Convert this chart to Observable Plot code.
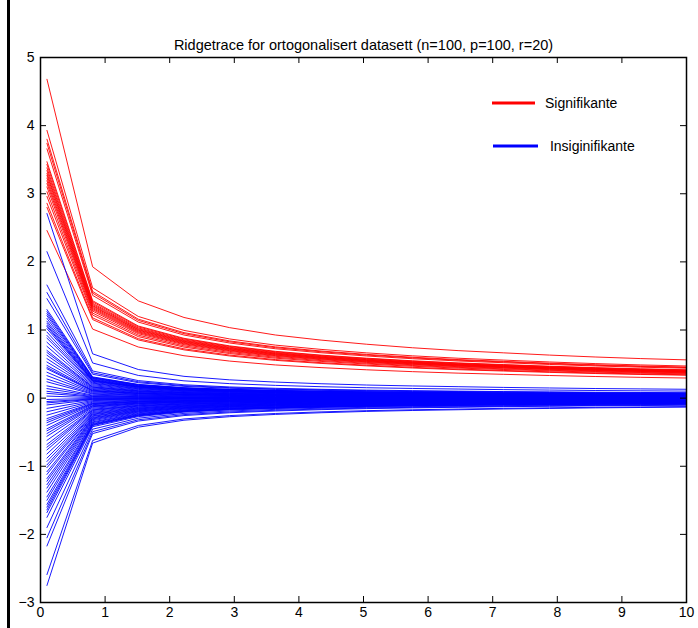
<!DOCTYPE html>
<html>
<head>
<meta charset="utf-8">
<script src="https://cdn.jsdelivr.net/npm/d3@7"></script>
<script src="https://cdn.jsdelivr.net/npm/@observablehq/plot@0.6"></script>
<style>
  html, body { margin: 0; padding: 0; background: #fff; }
  #wrap { position: relative; width: 698px; height: 628px; font-family: "Liberation Sans", Arial, Helvetica, sans-serif; }
  #border { position: absolute; left: 7px; top: 0; width: 3px; height: 628px; background: #000; }
  #legend { position: absolute; left: 0; top: 0; width: 698px; height: 628px; pointer-events: none; }
</style>
</head>
<body>
<div id="wrap"></div>
<script>
// ridge parameter values (x axis)
const ks = [0.1, 0.807, 1.514, 2.221, 2.929, 3.636, 4.343, 5.05, 5.757, 6.464, 7.171, 7.879, 8.586, 9.293, 10];
// coefficient values at the first ridge value
const sigStart = [4.68, 3.93, 3.80, 3.74, 3.66, 3.47, 3.43, 3.38, 3.34, 3.30, 3.27, 3.23, 3.19, 3.15, 3.10, 3.03, 2.96, 2.86, 2.80, 2.46];
const insigStart = [2.71, 2.15, 1.66, 1.55, 1.46, 1.30, 1.27, 1.24, 1.21, 1.17, 1.13, 1.10, 1.07, 1.05, 1.02,
  0.97, 0.92, 0.88, 0.82, 0.76, 0.70, 0.67, 0.63, 0.58, 0.53, 0.48, 0.45, 0.43, 0.38, 0.33,
  0.28, 0.24, 0.18, 0.14, 0.10, 0.07, 0.03, -0.02, -0.05, -0.07, -0.10, -0.15, -0.20, -0.25, -0.30,
  -0.33, -0.36, -0.40, -0.45, -0.48, -0.52, -0.56, -0.62, -0.68, -0.72, -0.76, -0.82, -0.88, -0.93, -0.98,
  -1.02, -1.08, -1.12, -1.18, -1.22, -1.27, -1.32, -1.38, -1.45, -1.50, -1.56, -1.60, -1.64, -1.68, -1.75,
  -1.90, -2.05, -2.17, -2.59, -2.75];
// shrinkage relative to the first value at each ridge value
const sigShrink = [1, 0.412, 0.305, 0.253, 0.221, 0.198, 0.182, 0.169, 0.158, 0.149, 0.142, 0.135, 0.129, 0.124, 0.120];
const insigShrink = [1, 0.240, 0.155, 0.118, 0.099, 0.087, 0.078, 0.071, 0.066, 0.062, 0.058, 0.055, 0.052, 0.050, 0.048];
const xTicks = [0, 1, 2, 3, 4, 5, 6, 7, 8, 9, 10];
const yTicks = [-3, -2, -1, 0, 1, 2, 3, 4, 5];
const titleText = "Ridgetrace for ortogonalisert datasett (n=100, p=100, r=20)";
const legendLabels = ["Signifikante", " Insiginifikante"];
const colors = {sig: "#ff0000", insig: "#0000ff"};

const rows = [];
sigStart.forEach((b, i) => ks.forEach((k, j) => rows.push({id: "s" + i, group: "sig", k, v: b * sigShrink[j]})));
insigStart.forEach((b, i) => ks.forEach((k, j) => rows.push({id: "i" + i, group: "insig", k, v: b * insigShrink[j]})));

const W = 698, H = 628, mL = 40, mR = 12, mT = 57, mB = 26;
const iw = W - mL - mR, ih = H - mT - mB, tl = 6;
const fmt = d => d < 0 ? "\u2212" + Math.abs(d) : String(d);
const FF = "'Liberation Sans', Arial, Helvetica, sans-serif";

const plot = Plot.plot({
  width: W, height: H,
  marginLeft: mL, marginRight: mR, marginTop: mT, marginBottom: mB,
  style: {fontFamily: FF, fontSize: "14px", background: "white", color: "black"},
  x: {domain: [0, 10], label: null},
  y: {domain: [-3, 5], label: null},
  marks: [
    Plot.line(rows.filter(d => d.group === "sig"), {x: "k", y: "v", z: "id", stroke: colors.sig, strokeWidth: 0.9}),
    Plot.line(rows.filter(d => d.group === "insig"), {x: "k", y: "v", z: "id", stroke: colors.insig, strokeWidth: 0.9}),
    Plot.frame({stroke: "black", strokeWidth: 1.5}),
    Plot.tickX(xTicks, {x: d => d, insetTop: ih - tl, stroke: "black"}),
    Plot.tickX(xTicks, {x: d => d, insetBottom: ih - tl, stroke: "black"}),
    Plot.tickY(yTicks, {y: d => d, insetRight: iw - tl, stroke: "black"}),
    Plot.tickY(yTicks, {y: d => d, insetLeft: iw - tl, stroke: "black"}),
    Plot.axisX({ticks: xTicks, tickSize: 0, tickPadding: 5, tickFormat: fmt, fontSize: 14, label: null}),
    Plot.axisY({ticks: yTicks, tickSize: 0, tickPadding: 6, tickFormat: fmt, fontSize: 14, label: null}),
    Plot.text([titleText], {text: d => d, frameAnchor: "top", dy: -18, fontSize: 14.5, fill: "black"})
  ]
});

const wrap = document.getElementById("wrap");
wrap.appendChild(plot);
const border = document.createElement("div");
border.id = "border";
wrap.appendChild(border);

const ns = "http://www.w3.org/2000/svg";
const leg = document.createElementNS(ns, "svg");
leg.setAttribute("id", "legend");
leg.setAttribute("width", W);
leg.setAttribute("height", H);
const items = [
  {label: legendLabels[0], color: colors.sig, x1: 492, x2: 535, y: 103, tx: 545},
  {label: legendLabels[1], color: colors.insig, x1: 493, x2: 538, y: 146, tx: 546}
];
items.forEach(it => {
  const l = document.createElementNS(ns, "line");
  l.setAttribute("x1", it.x1); l.setAttribute("x2", it.x2);
  l.setAttribute("y1", it.y); l.setAttribute("y2", it.y);
  l.setAttribute("stroke", it.color); l.setAttribute("stroke-width", 3);
  leg.appendChild(l);
  const t = document.createElementNS(ns, "text");
  t.setAttribute("x", it.tx); t.setAttribute("y", it.y + 5);
  t.setAttribute("font-size", 14);
  t.setAttribute("font-family", FF);
  t.setAttribute("xml:space", "preserve");
  t.style.whiteSpace = "pre";
  t.textContent = it.label;
  leg.appendChild(t);
});
wrap.appendChild(leg);
</script>
</body>
</html>
